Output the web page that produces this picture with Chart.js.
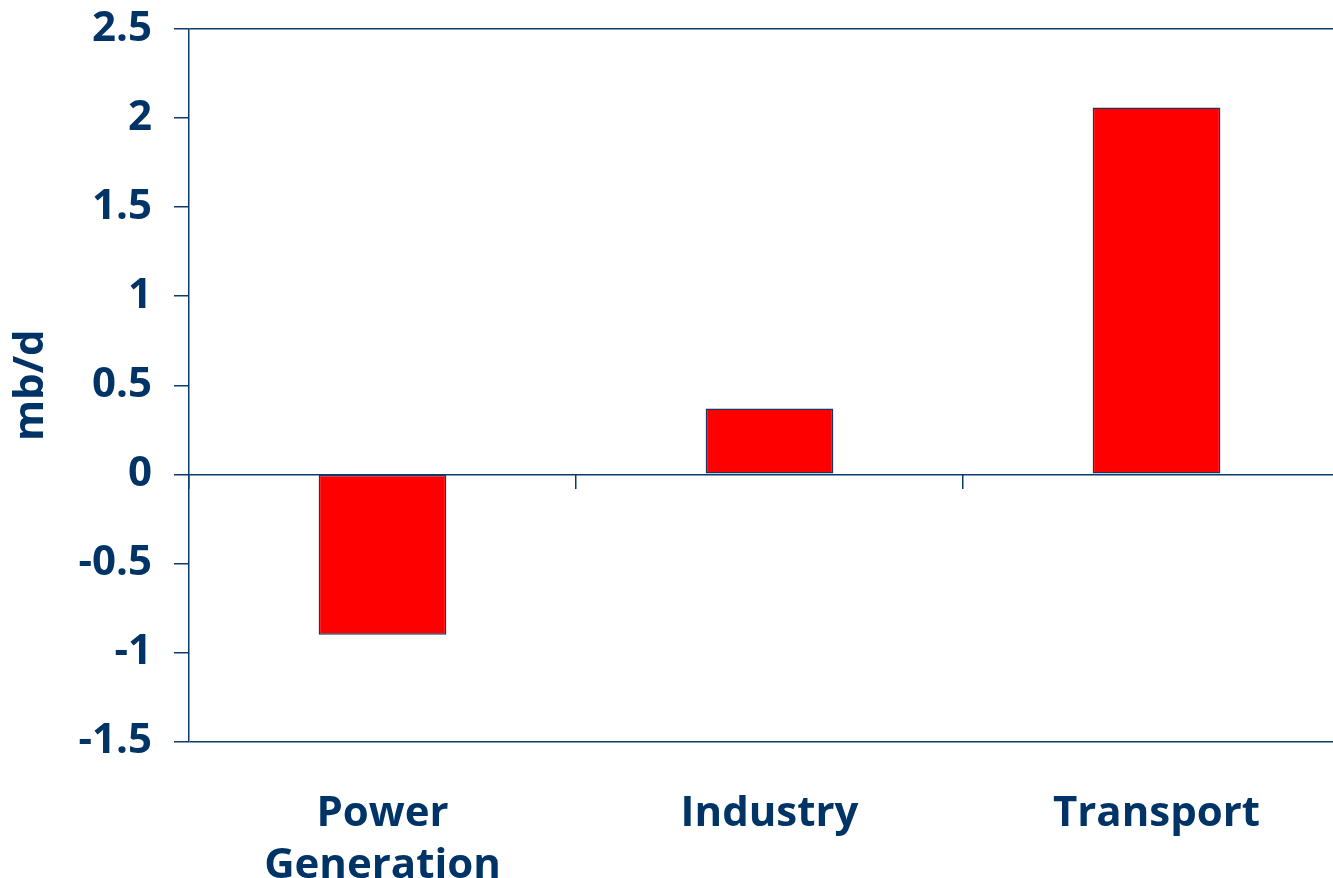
<!DOCTYPE html>
<html>
<head>
<meta charset="utf-8">
<title>Demand change by sector</title>
<script src="https://cdn.jsdelivr.net/npm/chart.js@4/dist/chart.umd.min.js"></script>
<style>
    html, body { margin: 0; padding: 0; background: #fff; overflow: hidden; }
    #wrap { width: 1352px; height: 878px; }
</style>
</head>
<body>
<div id="wrap"><canvas id="chart"></canvas></div>
<script>
const categories = [['Power', 'Generation'], 'Industry', 'Transport'];
const changeMbd = [-0.9, 0.37, 2.06];
const yMin = -1.5;
const yMax = 2.5;
const yStep = 0.5;
const framedValues = [2.5, 0, -1.5];

const navy = '#0b3a6b';
const textNavy = '#003366';
const font = { family: '"Open Sans", "Liberation Sans", sans-serif', weight: 'bold', size: 42 };

new Chart(document.getElementById('chart'), {
    type: 'bar',
    data: {
        labels: categories,
        datasets: [{
            data: changeMbd,
            backgroundColor: '#ff0000',
            borderColor: '#1a3763',
            borderWidth: 1.5,
            borderSkipped: false,
            barPercentage: 0.33,
            categoryPercentage: 1
        }]
    },
    options: {
        responsive: true,
        maintainAspectRatio: false,
        animation: false,
        layout: { padding: { top: 29, right: 2, left: 0, bottom: 0 } },
        plugins: {
            legend: { display: false },
            tooltip: { enabled: false }
        },
        scales: {
            x: {
                position: 'bottom',
                grid: { display: false },
                border: { display: false },
                ticks: { color: textNavy, font: { ...font, lineHeight: 1.24 }, padding: 38, maxRotation: 0, autoSkip: false },
                afterFit: scale => { scale.height = 136.5; scale.paddingLeft = 0; scale.paddingRight = 0; }
            },
            x0: {
                type: 'category',
                position: { y: 0 },
                offset: true,
                grid: { offset: true, drawOnChartArea: false, drawTicks: true, tickLength: 15, color: navy, lineWidth: 1.5 },
                border: { display: false },
                ticks: { display: false },
                afterFit: scale => { scale.height = 0; scale.paddingLeft = 0; scale.paddingRight = 0; }
            },
            y: {
                min: yMin,
                max: yMax,
                ticks: {
                    stepSize: yStep,
                    color: textNavy,
                    font: font,
                    padding: 22,
                    callback: v => String(v)
                },
                grid: {
                    color: ctx => framedValues.includes(ctx.tick && ctx.tick.value) ? navy : 'rgba(0,0,0,0)',
                    tickColor: navy,
                    tickLength: 15,
                    lineWidth: 1.5
                },
                border: { display: true, color: navy, width: 1.5 },
                title: {
                    display: true,
                    text: 'mb/d',
                    color: textNavy,
                    font: font,
                    padding: { top: 6, bottom: 0 }
                },
                afterFit: scale => { scale.width = 189; scale.paddingTop = 0; scale.paddingBottom = 0; }
            }
        }
    }
});
</script>
</body>
</html>
